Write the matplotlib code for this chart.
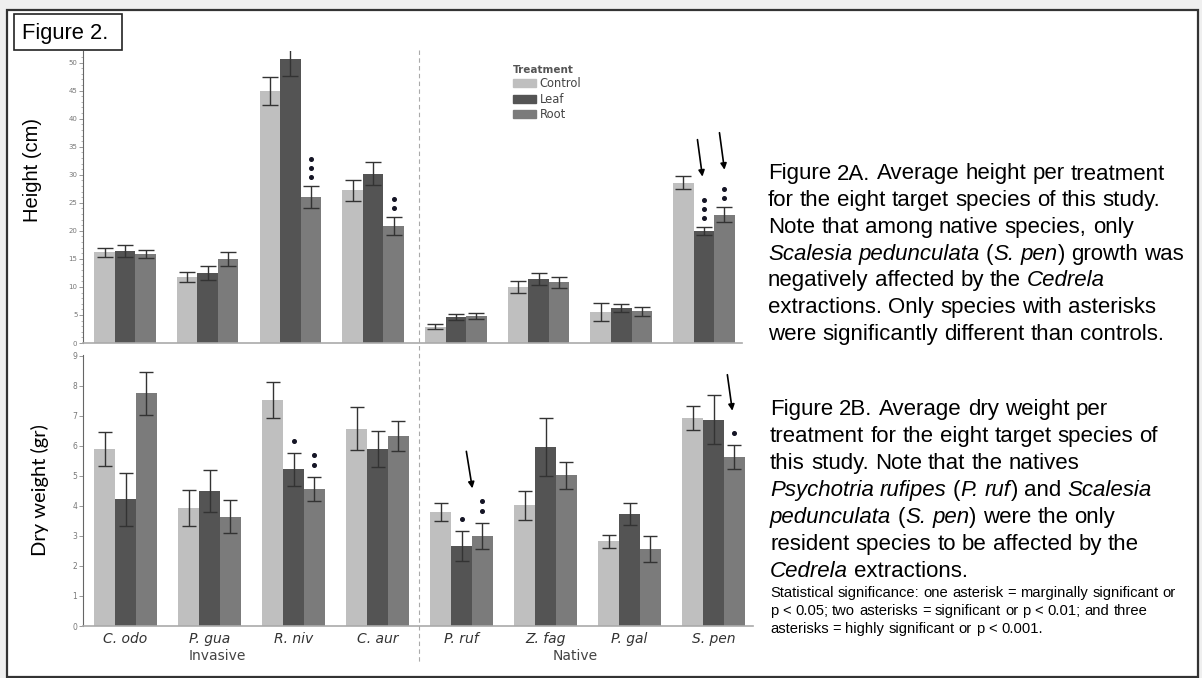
import matplotlib
matplotlib.use("Agg")
import matplotlib.pyplot as plt
import numpy as np
from matplotlib.patches import Rectangle
from matplotlib.transforms import offset_copy

# species and treatments
species = ["C. odo", "P. gua", "R. niv", "C. aur", "P. ruf", "Z. fag", "P. gal", "S. pen"]
treatments = ["Control", "Leaf", "Root"]

# Figure 2A - height (cm)
height_control = [16.2, 11.7, 45.0, 27.2, 2.9, 10.0, 5.6, 28.6]
height_leaf = [16.4, 12.5, 50.7, 30.2, 4.6, 11.4, 6.2, 20.0]
height_root = [15.8, 15.0, 26.0, 20.8, 4.8, 10.8, 5.7, 22.9]
height_control_err = [0.8, 0.9, 2.5, 1.8, 0.45, 1.05, 1.6, 1.2]
height_leaf_err = [1.1, 1.3, 3.1, 2.0, 0.5, 1.0, 0.7, 0.75]
height_root_err = [0.7, 1.3, 2.0, 1.6, 0.55, 1.05, 0.8, 1.4]
height_stars_leaf = [0, 0, 0, 0, 0, 0, 0, 3]
height_stars_root = [0, 0, 3, 2, 0, 0, 0, 2]

# Figure 2B - dry weight (gr)
weight_control = [5.89, 3.92, 7.53, 6.57, 3.79, 4.02, 2.82, 6.92]
weight_leaf = [4.22, 4.50, 5.23, 5.90, 2.68, 5.96, 3.74, 6.87]
weight_root = [7.76, 3.64, 4.57, 6.34, 3.00, 5.03, 2.56, 5.64]
weight_control_err = [0.57, 0.60, 0.60, 0.72, 0.30, 0.49, 0.22, 0.40]
weight_leaf_err = [0.88, 0.70, 0.55, 0.60, 0.50, 0.96, 0.37, 0.82]
weight_root_err = [0.72, 0.55, 0.40, 0.50, 0.42, 0.45, 0.43, 0.40]
weight_stars_leaf = [0, 0, 1, 0, 1, 0, 0, 0]
weight_stars_root = [0, 0, 2, 0, 2, 0, 0, 1]

# arrows: (species, treatment, tip dx px, tip dy px above error bar, tail dx px, tail dy px)
height_arrows = [(7, 1, -1.5, 50, -5, 37), (7, 2, 0, 37, -5, 37)]
weight_arrows = [(4, 2, -10, 35, -6, 37), (7, 2, -2, 34, -5, 36)]

text_2a = [
    "Figure 2A. Average height per treatment",
    "for the eight target species of this study.",
    "Note that among native species, only",
    "_Scalesia pedunculata_ (_S. pen_) growth was",
    "negatively affected by the _Cedrela_",
    "extractions. Only species with asterisks",
    "were significantly different than controls.",
]
text_2b = [
    "Figure 2B. Average dry weight per",
    "treatment for the eight target species of",
    "this study. Note that the natives",
    "_Psychotria rufipes_ (_P. ruf_) and _Scalesia_",
    "_pedunculata_ (_S. pen_) were the only",
    "resident species to be affected by the",
    "_Cedrela_ extractions.",
]
text_note = [
    "Statistical significance: one asterisk = marginally significant or",
    "p < 0.05; two asterisks = significant or p < 0.01; and three",
    "asterisks = highly significant or p < 0.001.",
]

colors = ["#bfbfbf", "#545454", "#7b7b7b"]
W, H = 1202, 678
fig = plt.figure(figsize=(W / 100, H / 100), dpi=100, facecolor="#efefef")

# background with frame
ax_bg = fig.add_axes([0, 0, 1, 1], zorder=0)
ax_bg.set_axis_off()
ax_bg.set_xlim(0, W)
ax_bg.set_ylim(H, 0)
ax_bg.add_patch(Rectangle((7, 10), 1191, 667, facecolor="white", edgecolor="#333333", lw=1.6))


def draw_panel(ax, vals, errs, stars, arrows, capsize, star_gap, star_step):
    x = np.arange(len(species))
    width = 0.248
    for j in range(3):
        ax.bar(x + (j - 1) * width, vals[j], width, color=colors[j], zorder=2)
        ax.errorbar(x + (j - 1) * width, vals[j], yerr=errs[j], fmt="none",
                    ecolor="#333333", elinewidth=1.0, capsize=capsize, capthick=1.0, zorder=3)
    # significance dots stacked above the error bar
    for j, st in ((1, stars[0]), (2, stars[1])):
        for i in range(len(species)):
            for k in range(st[i]):
                tr = offset_copy(ax.transData, fig, x=0, y=star_gap + k * star_step, units="dots")
                ax.plot(x[i] + (j - 1) * width, vals[j][i] + errs[j][i], "o", ms=2.6,
                        color="#151525", transform=tr, clip_on=False, zorder=4)
    for i, j, tdx, tdy, sdx, sdy in arrows:
        tip_tr = offset_copy(ax.transData, fig, x=tdx, y=tdy, units="dots")
        ax.annotate("", xy=(x[i] + (j - 1) * width, vals[j][i] + errs[j][i]), xycoords=tip_tr,
                    xytext=(sdx, sdy), textcoords="offset pixels", annotation_clip=False,
                    arrowprops=dict(arrowstyle="-|>", color="black", lw=1.2, mutation_scale=9,
                                    shrinkA=0, shrinkB=0))
    for side in ("top", "right"):
        ax.spines[side].set_visible(False)
    ax.spines["left"].set_color("#666666")
    ax.spines["bottom"].set_color("#aaaaaa")
    ax.spines["bottom"].set_linewidth(1.2)
    ax.set_facecolor("none")
    ax.tick_params(axis="x", length=0)
    ax.tick_params(axis="y", length=3, width=0.6, color="#888888", labelcolor="#777777", pad=1)


# top panel: height
ax1 = fig.add_axes([83 / W, 1 - 343 / H, 659 / W, (343 - 51.4) / H], zorder=1)
draw_panel(ax1, [height_control, height_leaf, height_root],
           [height_control_err, height_leaf_err, height_root_err],
           [height_stars_leaf, height_stars_root], height_arrows, 5.5, 9, 9)
ax1.set_xlim(-0.508, 7.46)
ax1.set_ylim(0, 52)
ax1.set_yticks(np.arange(0, 51, 5))
ax1.set_yticks(np.arange(0, 52, 1), minor=True)
ax1.tick_params(axis="y", which="minor", length=1.5, width=0.5, color="#999999")
ax1.tick_params(axis="y", labelsize=5)
ax1.set_xticks([])

# bottom panel: dry weight
ax2 = fig.add_axes([83 / W, 1 - 626 / H, 670 / W, 271 / H], zorder=1)
draw_panel(ax2, [weight_control, weight_leaf, weight_root],
           [weight_control_err, weight_leaf_err, weight_root_err],
           [weight_stars_leaf, weight_stars_root], weight_arrows, 5, 12, 10)
ax2.set_xlim(-0.506, 7.47)
ax2.set_ylim(0, 9.03)
ax2.set_yticks(np.arange(0, 10, 1))
ax2.tick_params(axis="y", labelsize=5.5)
ax2.set_xticks(np.arange(len(species)), species, fontsize=10, style="italic", color="#333333")
ax2.tick_params(axis="x", pad=4)

# legend
handles = [Rectangle((0, 0), 1, 1, color=c) for c in colors]
leg = fig.legend(handles, treatments, title="Treatment", loc="upper left",
                 bbox_to_anchor=(513 / W, 1 - 65 / H), frameon=False, borderpad=0, borderaxespad=0,
                 fontsize=8.3, title_fontsize=7.5, alignment="left", handlelength=2.0, handleheight=0.7,
                 labelspacing=0.2, handletextpad=0.3, labelcolor="#444444")
leg.get_title().set_color("#555555")
leg.get_title().set_fontweight("bold")

# foreground text layer
ax_fg = fig.add_axes([0, 0, 1, 1], zorder=2)
ax_fg.set_axis_off()
ax_fg.set_xlim(0, W)
ax_fg.set_ylim(H, 0)

ax_fg.add_patch(Rectangle((14, 14), 108, 36, facecolor="white", edgecolor="#222222", lw=1.2))
ax_fg.text(22, 39, "Figure 2.", fontsize=15.8, family="Liberation Sans", va="baseline")
ax_fg.plot([419, 419], [50, 663], color="#aaaaaa", lw=0.8, ls=(0, (4, 3)))

ax_fg.text(33, 170, "Height (cm)", rotation=90, ha="center", va="center",
           fontsize=14.5, family="Liberation Sans")
ax_fg.text(40, 490, "Dry weight (gr)", rotation=90, ha="center", va="center",
           fontsize=14.5, family="Lato")
ax_fg.text(217, 656, "Invasive", ha="center", va="center", fontsize=10, color="#444444")
ax_fg.text(575, 656, "Native", ha="center", va="center", fontsize=10, color="#444444")


def rich_line(x, y, line, size):
    # "_" toggles italic; each word is its own text, chained left to right
    words = []
    buf, italic, space = "", False, False
    for ch in line + " ":
        if ch == " " or ch == "_":
            if buf:
                words.append((buf, italic, space))
                buf = ""
                space = False
            if ch == " ":
                space = True
            else:
                italic = not italic
        else:
            buf += ch
    prev = None
    for w, it, sp in words:
        style = "italic" if it else "normal"
        if prev is None:
            prev = ax_fg.annotate(w, xy=(x, y), xycoords="data", va="baseline", ha="left",
                                  fontsize=size, style=style, family="Liberation Sans")
        else:
            dx = 0.278 * size if sp else 0
            prev = ax_fg.annotate(w, xy=(1, 0), xycoords=prev, xytext=(dx, 0),
                                  textcoords="offset points", va="bottom", ha="left",
                                  fontsize=size, style=style, family="Liberation Sans")


for k, line in enumerate(text_2a):
    rich_line(768, 179.5 + 26.7 * k, line, 16)
for k, line in enumerate(text_2b):
    rich_line(770, 415 + 27 * k, line, 16)
for k, line in enumerate(text_note):
    rich_line(770, 597.3 + 17.7 * k, line, 10.6)

fig.savefig("out.png", dpi=100, facecolor=fig.get_facecolor())
